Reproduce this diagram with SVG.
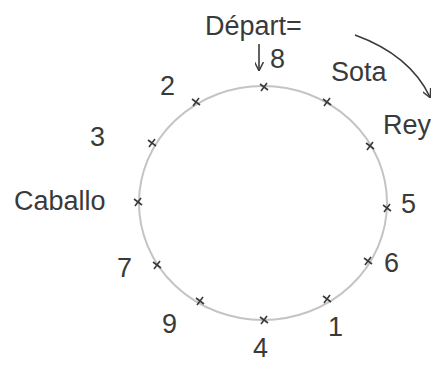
<svg xmlns="http://www.w3.org/2000/svg" width="431" height="365" viewBox="0 0 431 365">
<style>
.t{font-family:"Liberation Sans",Arial,sans-serif;fill:#3a3a3a;font-size:27px}
.m{stroke:#3a3a3a;stroke-width:1.6;fill:none}
.c{stroke:#c4c4c4;stroke-width:2;fill:none}
</style>
<defs>
<marker id="ah" viewBox="0 0 10 10" refX="9" refY="5" markerWidth="9" markerHeight="9" orient="auto" markerUnits="userSpaceOnUse">
<path d="M0,0 L10,5 L0,10" fill="none" stroke="#3a3a3a" stroke-width="1.6"/>
</marker>
<g id="x"><path d="M-4,-3 L4,3 M-3,4 L3,-4" class="m"/></g>
</defs>
<rect width="431" height="365" fill="#fff"/>
<ellipse class="c" cx="263" cy="203" rx="124" ry="117"/>
<g id="marks">
<use href="#x" x="264" y="87"/>
<use href="#x" x="327" y="102"/>
<use href="#x" x="370" y="146"/>
<use href="#x" x="387" y="208"/>
<use href="#x" x="368" y="261"/>
<use href="#x" x="327" y="299"/>
<use href="#x" x="264" y="320"/>
<use href="#x" x="200" y="301"/>
<use href="#x" x="157" y="265"/>
<use href="#x" x="138" y="202"/>
<use href="#x" x="152" y="143"/>
<use href="#x" x="196" y="102"/>
</g>
<g id="labels">
<text class="t" x="205" y="35" font-size="20">Départ=</text>
<text class="t" x="270" y="68">8</text>
<text class="t" x="331" y="81" font-size="19">Sota</text>
<text class="t" x="383" y="134" font-size="21">Rey</text>
<text class="t" x="401" y="213">5</text>
<text class="t" x="384" y="272">6</text>
<text class="t" x="328" y="336">1</text>
<text class="t" x="253" y="357" font-size="25">4</text>
<text class="t" x="162" y="333">9</text>
<text class="t" x="117" y="277">7</text>
<text class="t" x="14" y="210" font-size="24">Caballo</text>
<text class="t" x="90" y="146" font-size="30">3</text>
<text class="t" x="160" y="95" font-size="30">2</text>
</g>
<g id="connectors">
<path d="M259,44 L259,70" class="m" marker-end="url(#ah)"/>
<path d="M355,35 Q410,55 430,97" class="m" marker-end="url(#ah)"/>
</g>
</svg>
